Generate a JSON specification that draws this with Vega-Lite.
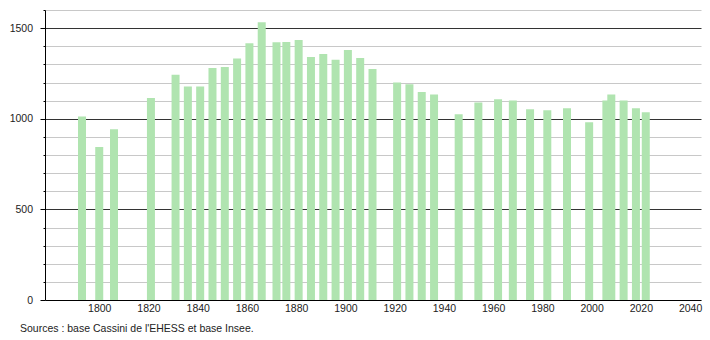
{
  "$schema": "https://vega.github.io/schema/vega-lite/v6.json",
  "autosize": {"type": "none"},
  "padding": {"left": 45, "top": 10, "right": 9, "bottom": 40},
  "width": 656,
  "height": 290,
  "background": "white",
  "title": {
    "text": "Sources : base Cassini de l'EHESS et base Insee.",
    "orient": "bottom",
    "anchor": "start",
    "frame": "group",
    "offset": 10,
    "dx": -25,
    "font": "Liberation Sans",
    "fontSize": 10.5,
    "fontWeight": "normal",
    "color": "#222"
  },
  "config": {
    "view": {"stroke": null},
    "font": "Liberation Sans"
  },
  "data": {
    "values": [
      {"year": 1793, "pop": 1012},
      {"year": 1800, "pop": 844},
      {"year": 1806, "pop": 942},
      {"year": 1821, "pop": 1114},
      {"year": 1831, "pop": 1243},
      {"year": 1836, "pop": 1178},
      {"year": 1841, "pop": 1178},
      {"year": 1846, "pop": 1280},
      {"year": 1851, "pop": 1285},
      {"year": 1856, "pop": 1333},
      {"year": 1861, "pop": 1416},
      {"year": 1866, "pop": 1533},
      {"year": 1872, "pop": 1422},
      {"year": 1876, "pop": 1424},
      {"year": 1881, "pop": 1435},
      {"year": 1886, "pop": 1341},
      {"year": 1891, "pop": 1357},
      {"year": 1896, "pop": 1326},
      {"year": 1901, "pop": 1380},
      {"year": 1906, "pop": 1335},
      {"year": 1911, "pop": 1274},
      {"year": 1921, "pop": 1200},
      {"year": 1926, "pop": 1191},
      {"year": 1931, "pop": 1147},
      {"year": 1936, "pop": 1134},
      {"year": 1946, "pop": 1025},
      {"year": 1954, "pop": 1090},
      {"year": 1962, "pop": 1108},
      {"year": 1968, "pop": 1101},
      {"year": 1975, "pop": 1053},
      {"year": 1982, "pop": 1047},
      {"year": 1990, "pop": 1058},
      {"year": 1999, "pop": 981},
      {"year": 2006, "pop": 1101},
      {"year": 2008, "pop": 1134},
      {"year": 2013, "pop": 1101},
      {"year": 2018, "pop": 1058},
      {"year": 2022, "pop": 1036}
    ]
  },
  "mark": {"type": "bar", "size": 8, "color": "#b0e4b0"},
  "encoding": {
    "x": {
      "field": "year",
      "type": "quantitative",
      "scale": {"domain": [1780, 2042.4], "nice": false, "zero": false},
      "axis": {
        "title": null,
        "values": [1800, 1820, 1840, 1860, 1880, 1900, 1920, 1940, 1960, 1980, 2000, 2020, 2040],
        "format": "d",
        "grid": false,
        "ticks": false,
        "domainColor": "#000",
        "domainWidth": 1,
        "labelFont": "Liberation Sans",
        "labelFontSize": 10.5,
        "labelColor": "#222",
        "labelPadding": 3
      }
    },
    "y": {
      "field": "pop",
      "type": "quantitative",
      "scale": {"domain": [0, 1600], "nice": false},
      "axis": {
        "title": null,
        "values": [0, 100, 200, 300, 400, 500, 600, 700, 800, 900, 1000, 1100, 1200, 1300, 1400, 1500, 1600],
        "format": "d",
        "labelExpr": "datum.value % 500 === 0 ? datum.label : ''",
        "grid": true,
        "gridColor": {"condition": {"test": "datum.value % 500 === 0 && datum.value > 0", "value": "#333333"}, "value": "#c8c8c8"},
        "gridWidth": 1,
        "tickColor": "#000",
        "tickSize": {"condition": {"test": "datum.value % 500 === 0", "value": 5}, "value": 2},
        "domainColor": "#000",
        "domainWidth": 1,
        "labelFont": "Liberation Sans",
        "labelFontSize": 10.5,
        "labelColor": "#222",
        "labelPadding": 7.5
      }
    }
  }
}
